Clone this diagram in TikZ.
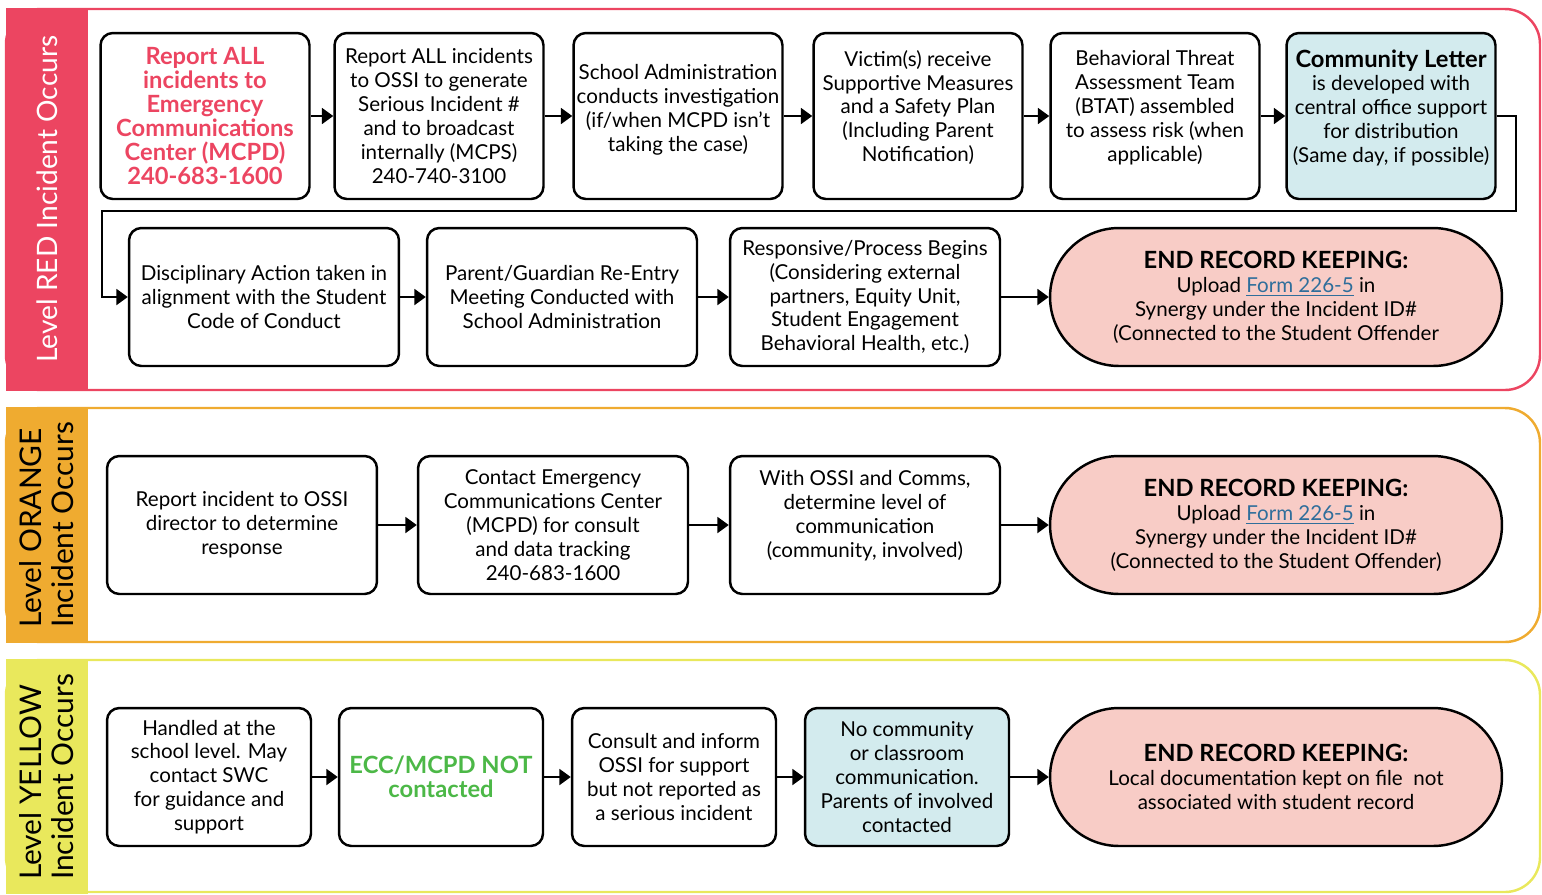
\documentclass[tikz,border=0pt]{standalone}
\usepackage{fontspec}
\setmainfont{Lato}
\usetikzlibrary{arrows.meta}
\definecolor{lvlred}{HTML}{EC4561}
\definecolor{lvlorange}{HTML}{EFAB30}
\definecolor{lvlyellow}{HTML}{E9E85C}
\definecolor{letterblue}{HTML}{D3EBEE}
\definecolor{endpink}{HTML}{F8CCC6}
\definecolor{notgreen}{HTML}{4CB847}
\definecolor{formblue}{HTML}{2F6E9B}
\newcommand{\formlink}{\textcolor{formblue}{\underline{Form 226-5}}}
\newcommand{\heavy}[1]{{\fontsize{13.5}{13.6}\selectfont\bfseries #1}}
\begin{document}
\begin{tikzpicture}[x=0.02cm,y=-0.02cm,->,>={Triangle[length=6.5pt,width=9pt]},line width=1.4pt,
    box/.style={draw,rounded corners=7pt,align=center,inner sep=1pt,
      font=\fontsize{11.7}{13.6}\selectfont},
    toprow/.style={box,minimum width=4.18cm,minimum height=3.32cm},
    wide/.style={box,minimum width=5.4cm,minimum height=2.76cm},
    narrow/.style={box,minimum width=4.08cm,minimum height=2.76cm},
    endbox/.style={box,fill=endpink,rounded corners=1.38cm,minimum width=9.04cm,minimum height=2.76cm},
    band/.style={-,rounded corners=0.7cm},
    bandlabel/.style={rotate=90,align=left,font=\fontsize{17}{18.2}\selectfont}]
  \useasboundingbox (0,0) rectangle (1542,894);
  % level bands
  \draw[band,lvlred] (6,9) rectangle (1540,390);
  \fill[lvlred] (6,8) rectangle (88,391);
  \draw[band,lvlorange] (6,408) rectangle (1540,642);
  \fill[lvlorange] (6,407) rectangle (88,643);
  \draw[band,lvlyellow] (6,660) rectangle (1540,892);
  \fill[lvlyellow] (6,659) rectangle (88,894);
  \node[bandlabel,text=white,font=\fontsize{16}{18.2}\selectfont] (redlbl) at (47,199) {Level RED Incident Occurs};
  \node[bandlabel] (orangelbl) at (47,525) {Level ORANGE\\Incident Occurs};
  \node[bandlabel] (yellowlbl) at (47,777) {Level YELLOW\\Incident Occurs};

  % red
  \node[toprow,text=lvlred,font=\fontsize{13.5}{13.6}\selectfont\bfseries] (r1) at (205,116)
    {Report ALL\\incidents to\\Emergency\\Communications\\Center (MCPD)\\240-683-1600};
  \node[toprow] (r2) at (439,116) {Report ALL incidents\\to OSSI to generate\\Serious Incident \#\\and to broadcast\\internally (MCPS)\\240-740-3100};
  \node[toprow] (r3) at (678,116) {School Administration\\conducts investigation\\(if/when MCPD isn't\\taking the case)\\[-4.6pt]};
  \node[toprow] (r4) at (918,116) {Victim(s) receive\\Supportive Measures\\and a Safety Plan\\(Including Parent\\Notification)\\[-2.2pt]};
  \node[toprow] (r5) at (1155,116) {Behavioral Threat\\Assessment Team\\(BTAT) assembled\\to assess risk (when\\applicable)\\[-2.2pt]};
  \node[toprow,fill=letterblue] (r6) at (1391,116) {\heavy{Community Letter}\\is developed with\\central office support\\for distribution\\(Same day, if possible)\\[-2.2pt]};
  \node[wide] (r7) at (264,297) {Disciplinary Action taken in\\alignment with the Student\\Code of Conduct};
  \node[wide] (r8) at (562,297) {Parent/Guardian Re-Entry\\Meeting Conducted with\\School Administration};
  \node[wide] (r9) at (865,297) {Responsive/Process Begins\\(Considering external\\partners, Equity Unit,\\Student Engagement\\Behavioral Health, etc.)};
  \node[endbox] (rend) at (1276,297) {\heavy{END RECORD KEEPING:}\\Upload \formlink{} in\\Synergy under the Incident ID\#\\(Connected to the Student Offender};
  \draw (r1) -- (r2);
  \draw (r2) -- (r3);
  \draw (r3) -- (r4);
  \draw (r4) -- (r5);
  \draw (r5) -- (r6);
  \draw (r6.east) -- (1516,116) |- (102,211) |- (r7);
  \draw (r7) -- (r8);
  \draw (r8) -- (r9);
  \draw (r9) -- (rend);

  % orange
  \node[wide] (o1) at (242,525) {Report incident to OSSI\\director to determine\\response};
  \node[wide] (o2) at (553,525) {Contact Emergency\\Communications Center\\(MCPD) for consult\\and data tracking\\240-683-1600};
  \node[wide] (o3) at (865,525) {With OSSI and Comms,\\determine level of\\communication\\(community, involved)\\[-1pt]};
  \node[endbox] (oend) at (1276,525) {\heavy{END RECORD KEEPING:}\\Upload \formlink{} in\\Synergy under the Incident ID\#\\(Connected to the Student Offender)};
  \draw (o1) -- (o2);
  \draw (o2) -- (o3);
  \draw (o3) -- (oend);

  % yellow
  \node[narrow] (y1) at (209,777) {Handled at the\\school level. May\\contact SWC\\for guidance and\\support};
  \node[narrow,text=notgreen,font=\fontsize{13.5}{13.6}\selectfont\bfseries] (y2) at (441,777) {ECC/MCPD NOT\\contacted};
  \node[narrow] (y3) at (674,777) {Consult and inform\\OSSI for support\\but not reported as\\a serious incident};
  \node[narrow,fill=letterblue] (y4) at (907,777) {No community\\or classroom\\communication.\\Parents of involved\\contacted};
  \node[endbox] (yend) at (1276,777) {\heavy{END RECORD KEEPING:}\\Local documentation kept on file\ \ not\\associated with student record};
  \draw (y1) -- (y2);
  \draw (y2) -- (y3);
  \draw (y3) -- (y4);
  \draw (y4) -- (yend);
\end{tikzpicture}
\end{document}
